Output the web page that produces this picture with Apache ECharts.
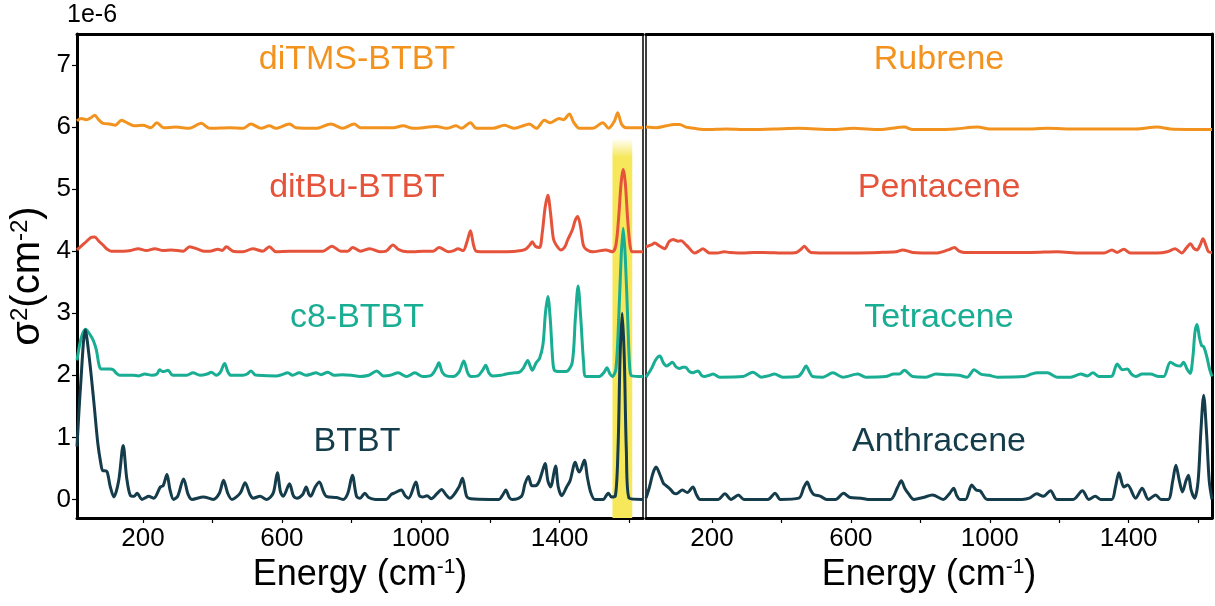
<!DOCTYPE html>
<html lang="en">
<head>
<meta charset="UTF-8">
<title>sigma2 spectra</title>
<style>
  html, body { margin: 0; padding: 0; background: #fff; }
  #chart { width: 1215px; height: 606px; }
</style>
</head>
<body>
<div id="chart"></div>
<script src="https://cdn.jsdelivr.net/npm/echarts@6/dist/echarts.min.js"></script>
<script>
// ---- data: [energy (cm-1), sigma^2 (1e-6 cm-2), offset already included] ----
var btbt = [[10,0.85],[20,1.8],[34,2.73],[45,2.3],[58,1.6],[70,0.9],[78,0.6],[84,0.46],[90,0.46],[97,0.44],[106,0.2],[116,0.04],[130,0.3],[143,0.87],[153,0.35],[164,0.06],[175,0.05],[183,0.1],[197,0.0],[208,0.03],[216,0.05],[231,0.02],[250,0.2],[258,0.22],[269,0.4],[278,0.15],[288,0.0],[300,0.05],[317,0.33],[330,0.08],[341,0.0],[374,0.04],[402,0.0],[420,0.1],[432,0.31],[444,0.1],[456,0.0],[480,0.1],[494,0.27],[508,0.08],[518,0.02],[537,0.05],[556,0.0],[575,0.1],[587,0.43],[596,0.12],[604,0.05],[622,0.25],[633,0.06],[643,0.02],[660,0.08],[670,0.2],[678,0.08],[683,0.05],[696,0.2],[708,0.28],[720,0.12],[728,0.05],[757,0.03],[776,0.0],[790,0.1],[803,0.39],[815,0.05],[825,0.02],[839,0.1],[850,0.03],[870,0.0],[900,0.0],[915,0.08],[923,0.1],[944,0.15],[955,0.06],[965,0.02],[986,0.28],[996,0.06],[1006,0.04],[1018,0.06],[1030,0.01],[1048,0.1],[1060,0.16],[1072,0.08],[1084,0.02],[1110,0.2],[1120,0.34],[1132,0.05],[1144,0.01],[1200,0.0],[1225,0.0],[1237,0.08],[1245,0.15],[1255,0.03],[1263,0.0],[1290,0.05],[1300,0.25],[1310,0.37],[1320,0.22],[1330,0.22],[1340,0.28],[1350,0.45],[1358,0.58],[1366,0.3],[1374,0.2],[1388,0.54],[1396,0.2],[1406,0.06],[1420,0.2],[1430,0.3],[1445,0.6],[1452,0.48],[1457,0.44],[1471,0.63],[1480,0.35],[1489,0.12],[1501,0.0],[1525,0.0],[1540,0.1],[1549,0.04],[1560,0.05],[1568,0.8],[1574,2.3],[1580,3.0],[1586,2.3],[1592,0.8],[1600,0.02],[1640,0.0]];

var c8btbt = [[10,2.24],[22,2.6],[35,2.74],[47,2.66],[57,2.56],[66,2.4],[74,2.15],[80,2.1],[95,2.1],[106,2.1],[114,2.09],[124,2.03],[133,2.0],[152,2.0],[171,2.0],[188,1.99],[205,2.02],[226,2.0],[240,2.02],[248,2.09],[256,2.06],[260,2.06],[272,2.08],[283,2.01],[294,2.0],[326,2.0],[344,2.04],[364,2.0],[385,2.02],[397,2.05],[411,2.0],[423,2.05],[435,2.19],[445,2.05],[454,2.0],[488,2.0],[500,2.02],[511,2.07],[522,2.01],[530,2.0],[584,1.99],[600,2.01],[617,2.04],[631,2.0],[650,2.04],[669,2.0],[685,2.02],[698,2.04],[713,2.01],[732,2.05],[751,2.0],[775,2.01],[800,2.0],[825,1.98],[850,2.0],[873,2.07],[892,1.99],[912,2.0],[935,2.04],[959,1.98],[983,2.04],[1006,1.98],[1030,2.0],[1045,2.12],[1052,2.2],[1062,2.05],[1074,1.99],[1093,1.98],[1110,2.05],[1124,2.23],[1135,2.04],[1145,1.98],[1164,1.99],[1178,2.08],[1187,2.16],[1197,2.03],[1207,1.99],[1230,2.0],[1246,2.02],[1270,2.04],[1284,2.05],[1296,2.12],[1308,2.24],[1315,2.15],[1321,2.08],[1332,2.2],[1342,2.27],[1352,2.5],[1359,3.0],[1366,3.27],[1373,2.9],[1380,2.25],[1385,2.08],[1399,2.06],[1418,2.06],[1436,2.2],[1445,2.9],[1453,3.44],[1461,2.9],[1469,2.2],[1476,1.98],[1514,1.98],[1528,2.05],[1536,2.12],[1545,2.02],[1552,1.98],[1562,2.1],[1570,2.9],[1577,3.9],[1583,4.37],[1589,3.9],[1596,2.9],[1602,2.1],[1608,1.99],[1640,1.98]];

var ditbu = [[10,4.02],[30,4.12],[50,4.22],[61,4.23],[73,4.16],[85,4.1],[97,4.03],[109,4.0],[143,4.0],[165,4.01],[186,4.04],[210,4.01],[234,4.04],[258,4.01],[282,4.02],[316,4.0],[334,4.07],[359,4.03],[376,4.0],[392,4.0],[416,4.03],[428,4.01],[440,4.07],[459,4.0],[488,3.99],[516,4.04],[545,4.0],[564,4.07],[583,3.99],[622,4.0],[670,4.0],[718,4.0],[744,4.08],[770,4.0],[790,4.0],[804,4.06],[827,4.0],[853,4.04],[882,3.99],[900,4.0],[920,4.1],[935,4.03],[949,4.0],[978,3.99],[1006,4.0],[1035,4.0],[1053,4.06],[1079,3.99],[1095,4.01],[1107,4.04],[1122,4.01],[1133,4.15],[1143,4.33],[1152,4.1],[1160,4.0],[1189,3.99],[1246,3.99],[1290,4.01],[1304,4.04],[1314,4.1],[1321,4.15],[1330,4.08],[1342,4.06],[1350,4.3],[1358,4.7],[1366,4.9],[1374,4.6],[1382,4.2],[1390,4.1],[1403,4.02],[1414,4.06],[1423,4.18],[1437,4.35],[1445,4.5],[1452,4.56],[1460,4.4],[1468,4.1],[1476,4.03],[1495,3.99],[1533,4.02],[1552,3.99],[1562,4.1],[1570,4.55],[1577,5.1],[1583,5.32],[1589,5.1],[1596,4.5],[1603,4.08],[1610,3.99],[1640,3.99]];

var ditms = [[10,6.1],[22,6.14],[37,6.12],[50,6.15],[61,6.19],[72,6.12],[85,6.06],[104,6.05],[120,6.03],[138,6.11],[157,6.06],[176,6.02],[200,6.03],[223,5.99],[240,6.07],[259,5.99],[295,6.0],[333,5.98],[368,6.06],[392,5.98],[449,5.99],[488,5.98],[511,6.05],[540,5.98],[564,6.02],[583,5.98],[622,6.05],[641,5.99],[699,5.98],[741,6.05],[775,5.98],[808,6.05],[827,5.99],[865,5.99],[921,5.99],[949,6.02],[978,5.98],[1045,6.01],[1074,5.98],[1102,6.02],[1117,5.98],[1143,6.07],[1160,5.98],[1208,5.98],[1241,6.03],[1270,5.98],[1299,6.03],[1313,6.05],[1333,5.98],[1356,6.11],[1373,6.07],[1399,6.14],[1411,6.12],[1428,6.21],[1440,6.08],[1457,5.98],[1495,5.98],[1524,6.07],[1541,5.98],[1558,6.1],[1567,6.23],[1578,6.05],[1591,5.99],[1640,5.99]];

var anthracene = [[10,0.02],[20,0.2],[30,0.42],[39,0.52],[50,0.4],[60,0.26],[66,0.23],[79,0.17],[90,0.1],[97,0.09],[115,0.15],[129,0.11],[145,0.2],[155,0.08],[166,0.0],[218,0.0],[237,0.09],[255,0.0],[276,0.07],[292,0.0],[361,0.0],[382,0.1],[397,0.0],[450,0.02],[465,0.2],[474,0.28],[484,0.15],[493,0.08],[513,0.05],[530,0.0],[556,0.0],[579,0.1],[598,0.03],[629,0.02],[650,0.0],[714,0.0],[735,0.2],[745,0.3],[756,0.17],[766,0.09],[782,0.0],[808,0.03],[835,0.07],[866,0.0],[885,0.1],[896,0.18],[905,0.06],[914,0.0],[930,0.0],[948,0.23],[961,0.15],[972,0.14],[993,0.0],[1093,0.0],[1114,0.02],[1135,0.09],[1154,0.05],[1175,0.14],[1193,0.0],[1240,0.0],[1267,0.14],[1285,0.0],[1304,0.05],[1320,0.0],[1351,0.0],[1362,0.2],[1372,0.43],[1386,0.2],[1397,0.23],[1420,0.02],[1439,0.18],[1457,0.0],[1478,0.07],[1493,0.0],[1514,0.0],[1527,0.3],[1536,0.55],[1546,0.3],[1555,0.12],[1565,0.3],[1572,0.39],[1580,0.15],[1590,0.02],[1600,0.3],[1608,1.1],[1616,1.68],[1624,1.1],[1632,0.3],[1640,0.0]];

var tetracene = [[10,1.97],[25,2.1],[38,2.25],[50,2.31],[60,2.2],[69,2.15],[78,2.18],[86,2.21],[96,2.14],[107,2.11],[116,2.13],[124,2.13],[135,2.06],[146,2.04],[153,2.06],[160,2.07],[170,2.0],[179,1.98],[192,2.0],[203,2.02],[222,1.97],[289,1.98],[318,2.05],[342,1.97],[362,1.99],[380,2.02],[404,1.97],[447,1.98],[460,2.05],[471,2.15],[482,2.04],[490,1.98],[519,1.97],[548,2.04],[577,1.97],[620,2.02],[643,1.97],[700,1.98],[724,2.02],[740,2.02],[754,2.08],[778,1.98],[816,1.97],[845,2.02],[878,2.01],[911,2.0],[935,1.97],[955,2.09],[974,2.02],[998,2.0],[1022,1.97],[1099,1.98],[1120,2.02],[1137,2.04],[1166,2.04],[1194,1.97],[1233,1.97],[1262,2.02],[1281,1.99],[1297,2.04],[1315,1.98],[1344,1.98],[1353,1.99],[1367,2.18],[1382,2.09],[1396,2.1],[1408,2.02],[1420,1.98],[1439,2.02],[1463,2.02],[1487,1.98],[1501,1.98],[1520,2.21],[1537,2.16],[1549,2.15],[1558,2.21],[1568,2.1],[1577,2.03],[1585,2.3],[1591,2.7],[1597,2.82],[1604,2.6],[1610,2.48],[1616,2.46],[1625,2.3],[1633,2.1],[1640,1.98]];

var pentacene = [[10,4.07],[25,4.1],[35,4.13],[50,4.08],[64,4.04],[76,4.15],[88,4.19],[103,4.16],[112,4.17],[122,4.12],[131,4.07],[150,3.97],[162,4.0],[174,4.04],[193,3.97],[215,3.97],[235,3.99],[251,3.98],[289,3.97],[320,3.98],[347,3.98],[414,3.97],[443,3.98],[458,4.04],[466,4.08],[476,4.02],[485,3.98],[548,3.97],[682,3.98],[730,3.99],[749,4.02],[778,3.98],[845,3.97],[880,4.02],[898,4.06],[912,4.0],[926,3.98],[1118,3.98],[1195,3.99],[1262,3.97],[1329,3.97],[1352,4.02],[1367,3.98],[1386,4.03],[1405,3.97],[1482,3.97],[1511,3.99],[1534,4.04],[1553,3.97],[1566,4.05],[1578,4.12],[1587,4.05],[1597,4.02],[1606,4.1],[1614,4.2],[1622,4.1],[1630,3.99],[1640,3.98]];

var rubrene = [[10,6.0],[40,5.99],[69,6.02],[90,6.04],[107,6.04],[125,6.0],[136,5.99],[160,5.97],[184,5.96],[241,5.97],[299,5.96],[380,5.97],[452,5.98],[548,5.96],[606,5.98],[683,5.96],[754,6.0],[778,5.96],[850,5.96],[900,5.97],[965,6.0],[1000,5.97],[1100,5.97],[1166,5.98],[1250,5.97],[1350,5.97],[1420,5.97],[1482,6.0],[1520,5.97],[1640,5.96]];

var xTicks = [200, 400, 600, 800, 1000, 1200, 1400, 1600];
var xLabels = [200, 600, 1000, 1400];
var yTicks = [0, 1, 2, 3, 4, 5, 6, 7];
var highlightBand = [1552, 1609];   // yellow band on the left panel
var highlightTop = 5.82;

var leftNames = ['diTMS-BTBT', 'ditBu-BTBT', 'c8-BTBT', 'BTBT'];
var rightNames = ['Rubrene', 'Pentacene', 'Tetracene', 'Anthracene'];
var colors = ['#F3931F', '#E6533B', '#19AD93', '#143C4B'];

// ---- chart ----
var chart = echarts.init(document.getElementById('chart'));
var font = '"Liberation Sans", Arial, sans-serif';
var xMin = 10, xMax = 1640, yMin = -0.3, yMax = 7.5;

function bottomX(g) {
    return {
        type: 'value', gridIndex: g, min: xMin, max: xMax, position: 'bottom',
        name: 'Energy (cm{sup|-1})', nameLocation: 'middle', nameGap: 37,
        nameTextStyle: {
            fontFamily: font, fontSize: 36, color: '#000',
            rich: { sup: { fontFamily: font, fontSize: 21, color: '#000', verticalAlign: 'top' } }
        },
        axisLine: { onZero: false, lineStyle: { color: '#000', width: 3 } },
        axisTick: { show: true, customValues: xTicks, length: 5, lineStyle: { color: '#000', width: 1.2 } },
        axisLabel: {
            customValues: xLabels, margin: 8, fontFamily: font, fontSize: 26, color: '#000',
            formatter: function (v) { return String(v); }
        },
        splitLine: { show: false }
    };
}
function topX(g) {
    return {
        type: 'value', gridIndex: g, min: xMin, max: xMax, position: 'top',
        axisLine: { onZero: false, lineStyle: { color: '#000', width: 3 } },
        axisTick: { show: false }, axisLabel: { show: false }, splitLine: { show: false }
    };
}
function edgeY(g, pos, w) {
    return {
        type: 'value', gridIndex: g, min: yMin, max: yMax, position: pos,
        axisLine: { show: true, onZero: false, lineStyle: { color: '#000', width: w } },
        axisTick: { show: false }, axisLabel: { show: false }, splitLine: { show: false }
    };
}

var mainY = {
    type: 'value', gridIndex: 0, min: yMin, max: yMax, position: 'left',
    name: 'σ{sup|2}(cm{sup|-2})', nameLocation: 'middle', nameRotate: 90, nameGap: 29,
    nameTextStyle: {
        fontFamily: font, fontSize: 40, color: '#000',
        rich: { sup: { fontFamily: font, fontSize: 24, color: '#000', verticalAlign: 'top' } }
    },
    axisLine: { show: true, onZero: false, lineStyle: { color: '#000', width: 3 } },
    axisTick: { show: true, customValues: yTicks, length: 5, lineStyle: { color: '#000', width: 1.2 } },
    axisLabel: { customValues: yTicks, margin: 6, fontFamily: font, fontSize: 26, color: '#000' },
    splitLine: { show: false }
};

function line(data, color, xi, yi) {
    return {
        type: 'line', data: data, xAxisIndex: xi, yAxisIndex: yi,
        showSymbol: false, smooth: 0.3, silent: true,
        lineStyle: { color: color, width: 3 }
    };
}

var leftData = [ditms, ditbu, c8btbt, btbt];
var rightData = [rubrene, pentacene, tetracene, anthracene];
var series = [];
leftData.forEach(function (d, i) { series.push(line(d, colors[i], 0, 0)); });
rightData.forEach(function (d, i) { series.push(line(d, colors[i], 2, 2)); });

series[0].markArea = {
    silent: true,
    itemStyle: {
        color: new echarts.graphic.LinearGradient(0, 0, 0, 1, [
            { offset: 0, color: 'rgba(246,231,91,0)' },
            { offset: 0.05, color: '#F6E75B' },
            { offset: 1, color: '#F6E75B' }
        ])
    },
    data: [[{ xAxis: highlightBand[0], yAxis: yMin }, { xAxis: highlightBand[1], yAxis: highlightTop }]]
};

var labelY = [60, 188, 318, 442];
var texts = [];
leftNames.forEach(function (n, i) {
    texts.push({ type: 'text', x: 357, y: labelY[i], style: { text: n, fill: colors[i], font: '34px ' + font, align: 'center', verticalAlign: 'middle' } });
});
rightNames.forEach(function (n, i) {
    texts.push({ type: 'text', x: 939, y: labelY[i], style: { text: n, fill: colors[i], font: '34px ' + font, align: 'center', verticalAlign: 'middle' } });
});
texts.push({ type: 'text', x: 67, y: 15, style: { text: '1e-6', fill: '#000', font: '25px ' + font, align: 'left', verticalAlign: 'middle' } });

option = {
    animation: false,
    backgroundColor: '#fff',
    grid: [
        { left: 77, right: 572, top: 34, bottom: 88 },
        { left: 646, right: 3, top: 34, bottom: 88 }
    ],
    xAxis: [bottomX(0), topX(0), bottomX(1), topX(1)],
    yAxis: [mainY, edgeY(0, 'right', 1.5), edgeY(1, 'left', 1.5), edgeY(1, 'right', 3)],
    graphic: texts,
    series: series
};

chart.setOption(option);
</script>
</body>
</html>
